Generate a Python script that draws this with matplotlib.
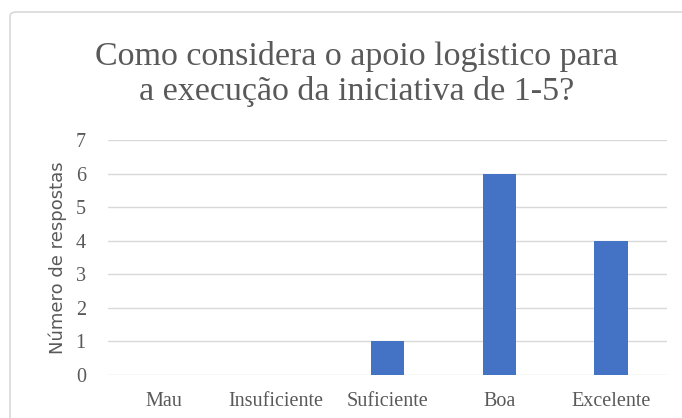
import matplotlib.pyplot as plt
from matplotlib.patches import FancyBboxPatch

categories = ["Mau", "Insuficiente", "Suficiente", "Boa", "Excelente"]
values = [0, 0, 1, 6, 4]
yticks = [0, 1, 2, 3, 4, 5, 6, 7]
title = "Como considera o apoio logistico para\na execução da iniciativa de 1-5?"
ylabel = "Número de respostas"

W, H = 682, 418
fig = plt.figure(figsize=(W/100, H/100), dpi=100)
fig.patch.set_facecolor("white")

# chart border
border = FancyBboxPatch((10/W, -0.1), 1.2, (H-12)/H + 0.1,
                        boxstyle="round,pad=0,rounding_size=0.01",
                        transform=fig.transFigure, fill=False,
                        edgecolor="#d9d9d9", linewidth=1.2)
fig.patches.append(border)

left, right = 108/W, 667/W
bottom, top = 1 - 375/H, 1 - 140/H
ax = fig.add_axes([left, bottom, right-left, top-bottom])

x = range(len(categories))
ax.bar(x, values, width=0.3, color="#4472C4", zorder=3)
ax.set_xlim(-0.5, len(categories)-0.5)
ax.set_ylim(0, 7)
ax.set_yticks(yticks)
ax.set_xticks(list(x))
ax.set_xticklabels(categories, family="Liberation Serif", fontsize=14.5, color="#595959")
ax.set_yticklabels([str(v) for v in yticks], family="Liberation Serif", fontsize=14.5, color="#595959")
ax.tick_params(axis="x", length=0, pad=12)
ax.tick_params(axis="y", length=0, pad=16)
ax.grid(axis="y", color="#d9d9d9", linewidth=1, zorder=0)
for s in ax.spines.values():
    s.set_visible(False)

ax.set_ylabel(ylabel, family="DejaVu Sans", fontsize=13, color="#595959", labelpad=6)

fig.text(357/W, 1 - 74/H, title, ha="center", va="center", family="Liberation Serif",
         fontsize=24.5, color="#595959", linespacing=1.2)

fig.savefig("out.png", dpi=100)
